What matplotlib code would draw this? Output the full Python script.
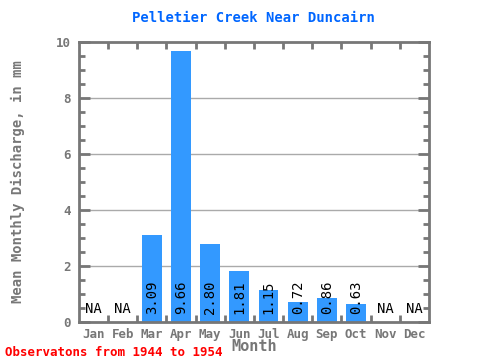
import matplotlib.pyplot as plt
import numpy as np

months = ['Jan', 'Feb', 'Mar', 'Apr', 'May', 'Jun', 'Jul', 'Aug', 'Sep', 'Oct', 'Nov', 'Dec']
values = [None, None, 3.09, 9.66, 2.80, 1.81, 1.15, 0.72, 0.86, 0.63, None, None]
labels = ['NA', 'NA', '3.09', '9.66', '2.80', '1.81', '1.15', '0.72', '0.86', '0.63', 'NA', 'NA']

mono = 'DejaVu Sans Mono'
gray = '#777777'

fig = plt.figure(figsize=(4.8, 3.6), dpi=100)
ax = fig.add_axes([0.1646, 0.1056, 0.729, 0.7778])

x = np.arange(len(months))
h = [v if v is not None else 0 for v in values]
ax.bar(x, h, width=0.68, color='#3399ff', zorder=2)

for i, (v, lab) in enumerate(zip(values, labels)):
    if v is None:
        ax.text(i, 0.47, lab, ha='center', va='center', family=mono, fontsize=10, color='black', zorder=3)
    else:
        ax.text(i, 0.3, lab, ha='center', va='bottom', rotation=90, family=mono, fontsize=10, color='black', zorder=3)

ax.set_xlim(-0.5, 11.5)
ax.set_ylim(0, 10)
for g in [2, 4, 6, 8]:
    ax.axhline(g, color='#aaaaaa', lw=1, zorder=1)

ax.set_xticks(x)
ax.set_xticklabels(months, family=mono, fontsize=9, color=gray, fontweight='bold')
ax.tick_params(axis='x', which='major', length=0, pad=4)
ax.set_xticks(np.arange(0.5, 11, 1), minor=True)
ax.tick_params(axis='x', which='minor', direction='in', length=5, width=2, color=gray, top=True, bottom=True)

ax.set_yticks([0, 2, 4, 6, 8, 10])
ax.set_yticklabels(['0', '2', '4', '6', '8', '10'], family=mono, fontsize=9, color=gray, fontweight='bold')
ax.set_yticks(np.arange(0, 10.01, 0.5), minor=True)
ax.tick_params(axis='y', which='major', direction='in', length=8, width=2, color=gray, left=True, right=True, pad=6)
ax.tick_params(axis='y', which='minor', direction='in', length=4, width=2, color=gray, left=True, right=True)

for s in ax.spines.values():
    s.set_color(gray)
    s.set_linewidth(2)

ax.set_xlabel('Month', family=mono, fontsize=11, color=gray, fontweight='bold', labelpad=-1)
ax.set_ylabel('Mean Monthly Discharge, in mm', family=mono, fontsize=10, color=gray, fontweight='bold', labelpad=22)
fig.text(0.528, 0.95, 'Pelletier Creek Near Duncairn', ha='center', va='center', family=mono,
         fontsize=10, color='#0066ff', fontweight='bold')
fig.text(0.01, 0.022, 'Observatons from 1944 to 1954', ha='left', va='center', family=mono,
         fontsize=9, color='red', fontweight='bold')

fig.savefig('out.png', dpi=100)
